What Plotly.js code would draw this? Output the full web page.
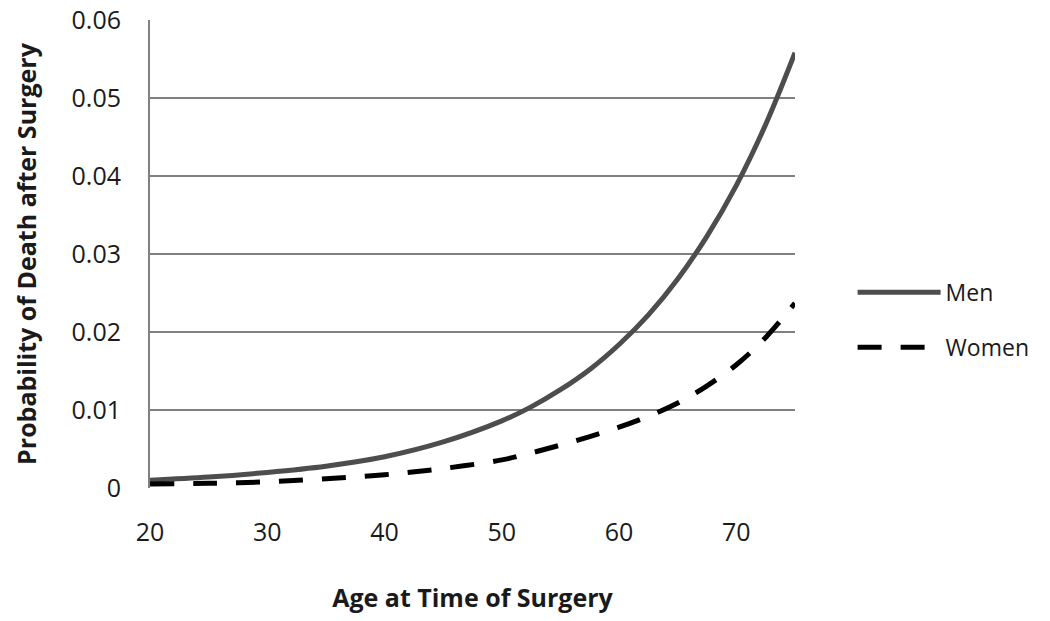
<!DOCTYPE html>
<html>
<head>
<meta charset="utf-8">
<script src="https://cdn.plot.ly/plotly-3.0.1.min.js"></script>
<style>
  body { margin: 0; background: #fff; }
  #plot { width: 1050px; height: 621px; }
</style>
</head>
<body>
<div id="plot"></div>
<script>
// Values
let ages = [20, 25, 30, 35, 40, 45, 50, 52.5, 55, 57.5, 60, 62.5, 65, 67.5, 70, 72.5, 75]
let men = [0.0010, 0.0014, 0.0020, 0.0028, 0.0040, 0.0059, 0.0086, 0.0104, 0.0126, 0.0152,
           0.0184, 0.0222, 0.0268, 0.0323, 0.0388, 0.0466, 0.0558]
let womenAges = [20, 25, 30, 35, 40, 45, 50, 52.5, 55, 57.5, 60, 62.5, 65, 67.5, 70, 72.5, 75]
let women = [0.0005, 0.0006, 0.0008, 0.0012, 0.0017, 0.0025, 0.0036, 0.0045, 0.0055, 0.0066,
             0.0078, 0.0092, 0.0109, 0.0131, 0.0158, 0.0193, 0.0237]
let yTicks = [0, 0.01, 0.02, 0.03, 0.04, 0.05, 0.06]
let yTickText = ["0", "0.01", "0.02", "0.03", "0.04", "0.05", "0.06"]

let font = "Open Sans, Liberation Sans, sans-serif"

// Men, solid grey line
let trace1 = {
    x: ages,
    y: men,
    name: "Men",
    legendgroup: "m",
    mode: "lines",
    line: {color: "#4d4d4d", width: 5, shape: "spline"}
}

// Women, black dashed line
let trace2 = {
    x: womenAges,
    y: women,
    name: "Women",
    legendgroup: "w",
    mode: "lines",
    line: {color: "#000000", width: 5, dash: "24px,19px", shape: "spline"}
}

var data = [trace1, trace2]

var layout = {
    width: 1050,
    height: 621,
    margin: {l: 150, r: 255, t: 20, b: 133},
    paper_bgcolor: "#fff",
    plot_bgcolor: "#fff",
    font: {family: font, size: 25, color: "#1a1a1a"},
    showlegend: true,
    legend: {
        xref: "container", yref: "container",
        x: 0.812, y: 0.485, yanchor: "middle", xanchor: "left",
        font: {size: 23, color: "#1a1a1a"},
        itemwidth: 83,
        tracegroupgap: 22
    },
    xaxis: {
        range: [20, 75],
        tickvals: [20, 30, 40, 50, 60, 70],
        showgrid: false,
        zeroline: false,
        showline: false,
        ticks: "",
        ticklabelstandoff: 27,
        title: {text: "<b>Age at Time of Surgery</b>", font: {size: 25, color: "#1a1a1a"}, standoff: 42}
    },
    yaxis: {
        range: [0, 0.06],
        tickvals: yTicks,
        ticktext: yTickText,
        showgrid: true,
        gridcolor: "#808080",
        gridwidth: 2,
        zeroline: false,
        showline: true,
        linecolor: "#808080",
        linewidth: 2,
        ticks: "",
        ticklabelstandoff: 22,
        title: {text: "<b>Probability of Death after Surgery</b>", font: {size: 25, color: "#1a1a1a"}, standoff: 28}
    }
}

Plotly.newPlot("plot", data, layout, {displayModeBar: false});
</script>
</body>
</html>
